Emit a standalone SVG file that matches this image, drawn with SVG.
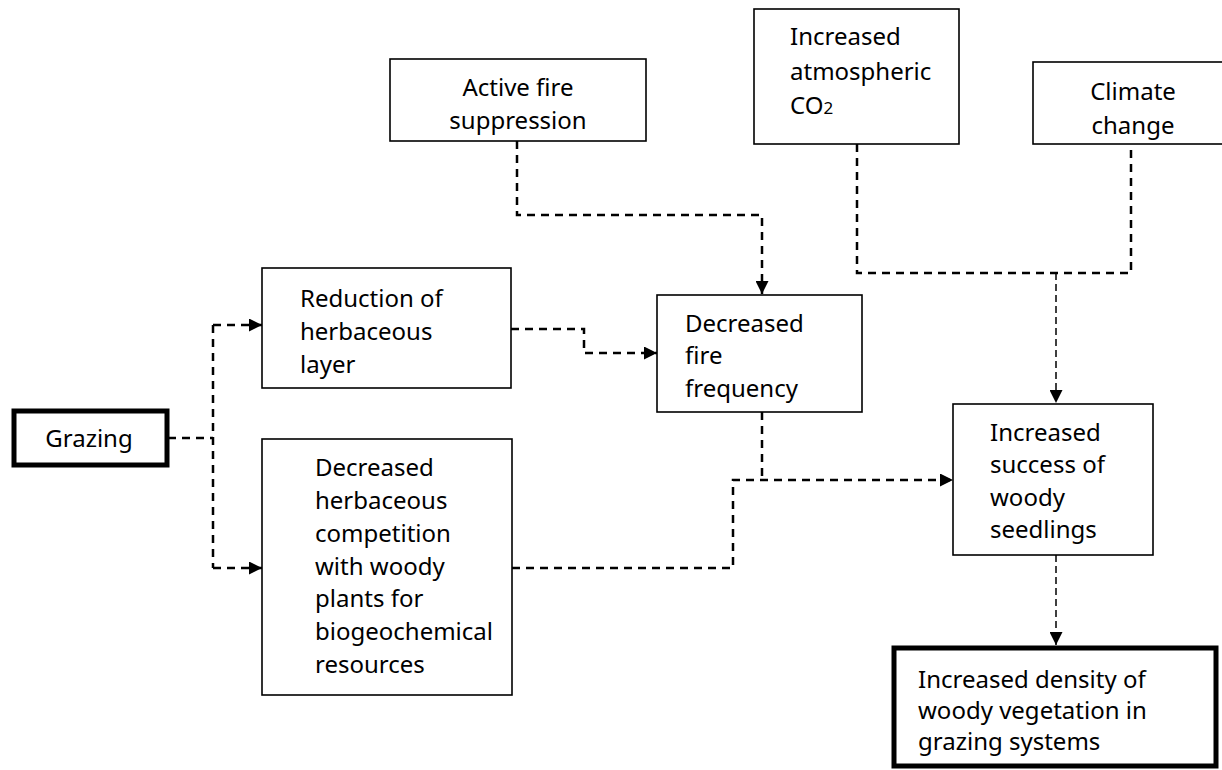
<svg xmlns="http://www.w3.org/2000/svg" width="1222" height="770" viewBox="0 0 1222 770">
<style>
.box{fill:#fff;stroke:#000;stroke-width:1.6}
.thick{fill:#fff;stroke:#000;stroke-width:5}
.t{font-family:"Noto Sans","Open Sans",sans-serif;font-size:24px;fill:#000}
.c{text-anchor:middle}
.dash{fill:none;stroke:#000;stroke-width:2.5;stroke-dasharray:8,6}
.thin{fill:none;stroke:#000;stroke-width:1.5;stroke-dasharray:7,4}
</style>
<defs>
<marker id="arr" viewBox="0 0 10 10" refX="10" refY="5" markerWidth="13" markerHeight="13" markerUnits="userSpaceOnUse" orient="auto">
<path d="M0,0 L10,5 L0,10 z" fill="#000"/>
</marker>
</defs>
<rect width="1222" height="770" fill="#fff"/>
<g id="connectors">
<polyline class="dash" points="168,438 213,438"/>
<polyline class="dash" points="213,325 213,568"/>
<polyline class="dash" points="213,325 262,325" marker-end="url(#arr)"/>
<polyline class="dash" points="213,568 262,568" marker-end="url(#arr)"/>
<polyline class="dash" points="511,329 584,329 584,353 657,353" marker-end="url(#arr)"/>
<polyline class="dash" points="517,141 517,215 762,215 762,294" marker-end="url(#arr)"/>
<polyline class="dash" points="857,144 857,273 1131,273 1131,144"/>
<polyline class="thin" points="1056,273 1056,403" marker-end="url(#arr)"/>
<polyline class="dash" points="762,412 762,480"/>
<polyline class="dash" points="512,568 733,568 733,480 953,480" marker-end="url(#arr)"/>
<polyline class="thin" points="1056,555 1056,645" marker-end="url(#arr)"/>
</g>
<g id="grazing">
<rect class="thick" x="14" y="411" width="153" height="54"/>
<text class="t c" x="89" y="447">Grazing</text>
</g>
<g id="reduction">
<rect class="box" x="262" y="268" width="249" height="120"/>
<text class="t" x="300" y="307">Reduction of</text>
<text class="t" x="300" y="340">herbaceous</text>
<text class="t" x="300" y="373">layer</text>
</g>
<g id="competition">
<rect class="box" x="262" y="439" width="250" height="256"/>
<text class="t" x="315" y="476">Decreased</text>
<text class="t" x="315" y="509">herbaceous</text>
<text class="t" x="315" y="542">competition</text>
<text class="t" x="315" y="575">with woody</text>
<text class="t" x="315" y="607">plants for</text>
<text class="t" x="315" y="640">biogeochemical</text>
<text class="t" x="315" y="673">resources</text>
</g>
<g id="fire-suppression">
<rect class="box" x="390" y="59" width="256" height="82"/>
<text class="t c" x="518" y="96">Active fire</text>
<text class="t c" x="518" y="129">suppression</text>
</g>
<g id="fire-frequency">
<rect class="box" x="657" y="295" width="205" height="117"/>
<text class="t" x="685" y="332">Decreased</text>
<text class="t" x="685" y="364">fire</text>
<text class="t" x="685" y="397">frequency</text>
</g>
<g id="co2">
<rect class="box" x="754" y="9" width="205" height="135"/>
<text class="t" x="790" y="45">Increased</text>
<text class="t" x="790" y="80">atmospheric</text>
<text class="t" x="790" y="114">CO<tspan font-size="17">2</tspan></text>
</g>
<g id="climate">
<rect class="box" x="1033" y="62" width="195" height="82"/>
<text class="t c" x="1133" y="100">Climate</text>
<text class="t c" x="1133" y="134">change</text>
</g>
<g id="seedlings">
<rect class="box" x="953" y="404" width="200" height="151"/>
<text class="t" x="990" y="441">Increased</text>
<text class="t" x="990" y="473">success of</text>
<text class="t" x="990" y="506">woody</text>
<text class="t" x="990" y="538">seedlings</text>
</g>
<g id="density">
<rect class="thick" x="894" y="648" width="322" height="118"/>
<text class="t" x="918" y="688">Increased density of</text>
<text class="t" x="918" y="719">woody vegetation in</text>
<text class="t" x="918" y="750">grazing systems</text>
</g>
</svg>
